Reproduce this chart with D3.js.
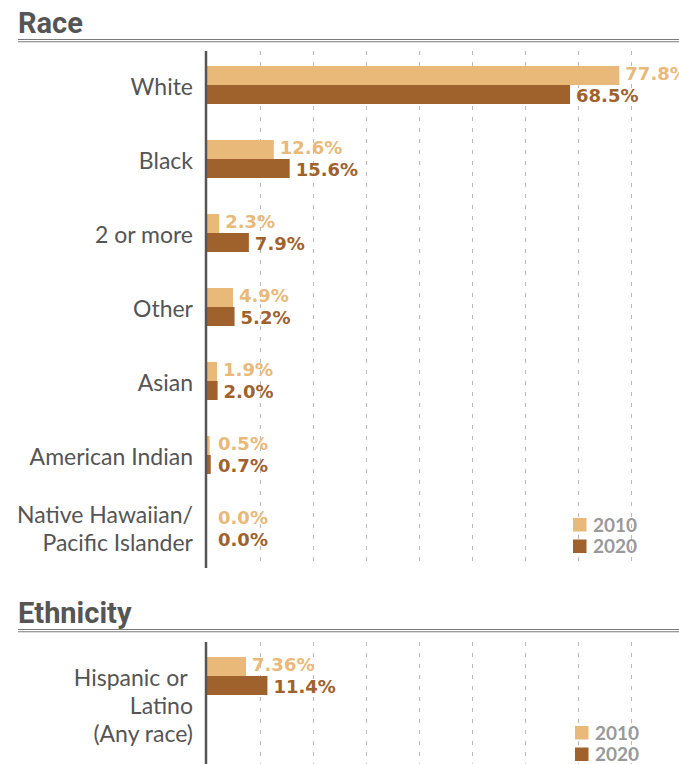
<!DOCTYPE html>
<meta charset="utf-8">
<style>
    body { margin: 0; background: #fff; }
    .cat { font-family: Lato, sans-serif; font-size: 23px; fill: #555; white-space: pre; }
    .val { font-family: "DejaVu Sans", sans-serif; font-weight: bold; font-size: 18px; }
    .title { font-family: Roboto, sans-serif; font-weight: bold; font-size: 29px; fill: #555; }
    .legend text { font-family: Lato, sans-serif; font-weight: bold; font-size: 19px; fill: #999; }
    .grid line { stroke: #bbb; stroke-width: 1; stroke-dasharray: 4,7; }
</style>
<svg width="679" height="764"></svg>
<script src="https://cdn.jsdelivr.net/npm/d3@7"></script>
<script>

    // data
    var years = ["2010", "2020"];
    var raceCats = ["White", "Black", "2 or more", "Other", "Asian", "American Indian", "Native Hawaiian/|Pacific Islander"];
    var race2010 = [77.8, 12.6, 2.3, 4.9, 1.9, 0.5, 0.0];
    var race2020 = [68.5, 15.6, 7.9, 5.2, 2.0, 0.7, 0.0];
    var ethCats = ["Hispanic or |Latino|(Any race)"];
    var eth2010 = [7.36];
    var eth2020 = [11.4];
    var gridTicks = [10, 20, 30, 40, 50, 60, 70, 80];

    var colors = d3.scaleOrdinal().domain(years).range(["#e9b97a", "#a0622d"]);

    var svg = d3.select("svg");
    var x = d3.scaleLinear().domain([0, 80]).range([207, 631]);

    var fmt = function (v) {
        return (Number.isInteger(v) ? v.toFixed(1) : String(v)) + "%";
    };

    //one section = title, rule, grid, axis, bars, labels, legend
    function section(opt) {
        var g = svg.append("g");

        g.append("text").attr("class", "title")
            .attr("x", 18).attr("y", opt.titleY)
            .text(opt.title);
        [0, 2.2].forEach(function (o) {
            g.append("line")
                .attr("x1", 18).attr("x2", 679)
                .attr("y1", opt.titleY + 6.5 + o).attr("y2", opt.titleY + 6.5 + o)
                .attr("stroke", "#7a7a7a").attr("stroke-width", 1.1);
        });

        g.append("g").attr("class", "grid")
            .selectAll("line").data(gridTicks).enter().append("line")
            .attr("x1", function (d) { return Math.round(x(d)) + 0.5; })
            .attr("x2", function (d) { return Math.round(x(d)) + 0.5; })
            .attr("y1", opt.axisTop).attr("y2", opt.axisBottom);

        var y = d3.scaleBand().domain(opt.cats)
            .range(opt.range).paddingInner(36 / 74).paddingOuter(0.25);
        var y1 = d3.scaleBand().domain(years).range([0, y.bandwidth()]);

        var rows = opt.cats.map(function (c, i) {
            return {cat: c, vals: [{year: "2010", v: opt.v2010[i]}, {year: "2020", v: opt.v2020[i]}]};
        });

        var row = g.selectAll("g.row").data(rows).enter().append("g")
            .attr("class", "row")
            .attr("transform", function (d) { return "translate(0," + y(d.cat) + ")"; });

        row.selectAll("rect").data(function (d) { return d.vals; }).enter().append("rect")
            .attr("x", x(0))
            .attr("y", function (d) { return y1(d.year); })
            .attr("width", function (d) { return x(d.v) - x(0); })
            .attr("height", y1.bandwidth())
            .attr("fill", function (d) { return colors(d.year); });

        row.selectAll("text.val").data(function (d) { return d.vals; }).enter().append("text")
            .attr("class", "val")
            .attr("x", function (d) { return Math.max(x(d.v) + 6, x(0) + 11); })
            .attr("y", function (d) { return y1(d.year) + y1.bandwidth() / 2 + (d.year === "2010" ? 4.5 : 7); })
            .attr("fill", function (d) { return colors(d.year); })
            .text(function (d) { return fmt(d.v); });

        row.each(function (d) {
            var lines = d.cat.split("|");
            var c = y.bandwidth() / 2;
            var first = lines.length === 2 ? c - 6 : c + 10;
            var t = d3.select(this).append("text").attr("class", "cat")
                .attr("text-anchor", "end");
            lines.forEach(function (l, i) {
                t.append("tspan").attr("x", 193).attr("y", first + i * 28).text(l);
            });
        });

        g.append("line")
            .attr("x1", 206).attr("x2", 206)
            .attr("y1", opt.axisTop).attr("y2", opt.axisBottom)
            .attr("stroke", "#555").attr("stroke-width", 2.5);

        var lg = g.append("g").attr("class", "legend")
            .attr("transform", "translate(" + opt.legend[0] + "," + opt.legend[1] + ")");
        years.forEach(function (yr, i) {
            lg.append("rect").attr("x", 0).attr("y", i * 21.5)
                .attr("width", 13.5).attr("height", 13.5).attr("fill", colors(yr));
            lg.append("text").attr("x", 20).attr("y", i * 21.5 + 13.5).text(yr);
        });
    }

    section({
        title: "Race", titleY: 33, cats: raceCats, v2010: race2010, v2020: race2020,
        range: [47.5, 566.5], axisTop: 51, axisBottom: 568, legend: [573, 518]
    });

    section({
        title: "Ethnicity", titleY: 623, cats: ethCats, v2010: eth2010, v2020: eth2020,
        range: [657 - 18.5, 657 - 18.5 + 74 * (1 - 36 / 74 + 0.5)], axisTop: 642, axisBottom: 764, legend: [575, 726]
    });

</script>
